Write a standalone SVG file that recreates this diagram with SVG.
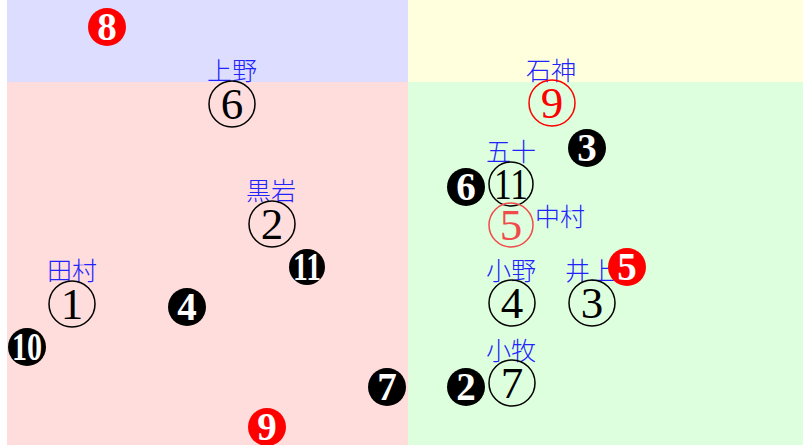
<svg xmlns="http://www.w3.org/2000/svg" width="803" height="445" viewBox="0 0 803 445">
<style>
.lbl{font-family:"Noto Sans CJK JP","Noto Sans CJK SC",sans-serif;font-size:25px;font-weight:300;fill:#2222ff;text-anchor:middle}
.oc{fill:none;stroke:#000;stroke-width:1.5}
.od{font-family:"Liberation Serif","DejaVu Serif",serif;font-size:45px;fill:#000;text-anchor:middle}
.fc{fill:#000}
.fd{font-family:"Liberation Serif","DejaVu Serif",serif;font-weight:bold;font-size:39px;fill:#fff;text-anchor:middle}
.red .oc{stroke:#ff0000}
.red .od{fill:#ff0000}
.lred .oc{stroke:#f04a4a}
.lred .od{fill:#f04a4a}
.redf .fc{fill:#ff0000}
</style>
<rect x="0" y="0" width="803" height="445" fill="#ffffff"/>
<rect x="7" y="0" width="401" height="82" fill="#ddddff"/>
<rect x="408" y="0" width="395" height="82" fill="#ffffdd"/>
<rect x="7" y="82" width="401" height="363" fill="#ffdddd"/>
<rect x="408" y="82" width="395" height="363" fill="#ddffdd"/>
<g id="connectors"/>
<g id="n6"><text class="lbl" x="232" y="80">上野</text><circle class="oc" cx="232" cy="104" r="23"/><text class="od" x="232" y="119">6</text></g>
<g id="n9" class="red"><text class="lbl" x="551" y="80">石神</text><circle class="oc" cx="552" cy="103" r="23"/><text class="od" x="552" y="118">9</text></g>
<g id="n2"><text class="lbl" x="271" y="200">黒岩</text><circle class="oc" cx="272" cy="224" r="23"/><text class="od" x="272" y="239">2</text></g>
<g id="n11"><text class="lbl" x="511" y="161">五十</text><circle class="oc" cx="511" cy="184" r="22"/><text class="od" x="511" y="199" textLength="34" lengthAdjust="spacingAndGlyphs">11</text></g>
<g id="n5" class="lred"><text class="lbl" x="560" y="226">中村</text><circle class="oc" cx="511" cy="225" r="22"/><text class="od" x="511" y="240">5</text></g>
<g id="n1"><text class="lbl" x="72" y="280">田村</text><circle class="oc" cx="72" cy="304" r="23"/><text class="od" x="72" y="319">1</text></g>
<g id="n4"><text class="lbl" x="511" y="280">小野</text><circle class="oc" cx="512" cy="303" r="23"/><text class="od" x="512" y="318">4</text></g>
<g id="n3"><text class="lbl" x="590" y="280">井上</text><circle class="oc" cx="592" cy="303" r="23"/><text class="od" x="592" y="318">3</text></g>
<g id="n7"><text class="lbl" x="511" y="360">小牧</text><circle class="oc" cx="512" cy="383" r="23"/><text class="od" x="512" y="398">7</text></g>
<g id="b8" class="redf"><circle class="fc" cx="107" cy="27" r="19"/><text class="fd" x="107" y="40">8</text></g>
<g id="b3"><circle class="fc" cx="587" cy="148" r="19"/><text class="fd" x="587" y="161">3</text></g>
<g id="b6"><circle class="fc" cx="466" cy="187" r="19"/><text class="fd" x="466" y="200">6</text></g>
<g id="b5" class="redf"><circle class="fc" cx="627" cy="267" r="19"/><text class="fd" x="627" y="280">5</text></g>
<g id="b11"><circle class="fc" cx="307" cy="267" r="18"/><text class="fd" x="307" y="280" textLength="28" lengthAdjust="spacingAndGlyphs">11</text></g>
<g id="b4"><circle class="fc" cx="187" cy="307" r="19"/><text class="fd" x="187" y="320">4</text></g>
<g id="b10"><circle class="fc" cx="27" cy="347" r="19"/><text class="fd" x="27" y="360" textLength="30" lengthAdjust="spacingAndGlyphs">10</text></g>
<g id="b7"><circle class="fc" cx="387" cy="387" r="19"/><text class="fd" x="387" y="400">7</text></g>
<g id="b2"><circle class="fc" cx="466" cy="387" r="19"/><text class="fd" x="466" y="400">2</text></g>
<g id="b9" class="redf"><circle class="fc" cx="267" cy="427" r="19"/><text class="fd" x="267" y="440">9</text></g>
</svg>
